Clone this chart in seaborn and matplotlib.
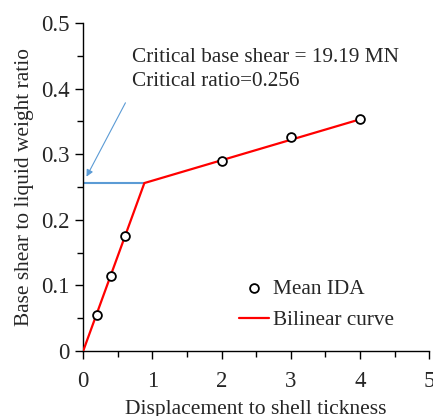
"""Curva bilineal de cortante basal frente a desplazamiento normalizado."""

import matplotlib.pyplot as plt
import pandas as pd
import seaborn as sns
from matplotlib.ticker import MultipleLocator

# Puntos IDA medios
ida_x = [0.2, 0.4, 0.6, 2.0, 3.0, 4.0]
ida_y = [0.055, 0.115, 0.175, 0.290, 0.326, 0.353]

# Curva bilineal
bilineal_x = [0.0, 0.885, 4.0]
bilineal_y = [0.0, 0.256, 0.353]

ratio_critico = 0.256

sns.set_theme(style="ticks")
plt.rcParams["font.family"] = ["Liberation Serif", "DejaVu Serif"]

df_ida = pd.DataFrame({"x": ida_x, "y": ida_y})
df_bil = pd.DataFrame({"x": bilineal_x, "y": bilineal_y})

fig = plt.figure(figsize=(4.33, 4.16), dpi=100)
ax = fig.add_axes([0.192, 0.156, 0.799, 0.789])

ax.plot([0, bilineal_x[1]], [ratio_critico, ratio_critico],
        color="#5b9bd5", linewidth=1.5, zorder=2)
sns.lineplot(data=df_bil, x="x", y="y", ax=ax, color="red",
             linewidth=1.6, label="Bilinear curve", zorder=3)
sns.scatterplot(data=df_ida, x="x", y="y", ax=ax, marker="o", s=40,
                facecolor="white", edgecolor="black", linewidth=1.3,
                label="Mean IDA", zorder=4)

ax.annotate("", xy=(0.03, 0.262), xytext=(0.63, 0.382),
            arrowprops=dict(arrowstyle="-|>", color="#5b9bd5", lw=0.8,
                            mutation_scale=10))
ax.text(0.70, 0.441, "Critical base shear = 19.19 MN", fontsize=15.3)
ax.text(0.70, 0.404, "Critical ratio=0.256", fontsize=15.3)

ax.set_xlim(0, 5)
ax.set_ylim(0, 0.5)
ax.set_xticks([0, 1, 2, 3, 4, 5])
ax.set_xticklabels(["0", "1", "2", "3", "4", "5"])
ax.set_yticks([0, 0.1, 0.2, 0.3, 0.4, 0.5])
ax.set_yticklabels(["0", "0.1", "0.2", "0.3", "0.4", "0.5"])
ax.xaxis.set_minor_locator(MultipleLocator(0.5))
ax.yaxis.set_minor_locator(MultipleLocator(0.05))
ax.tick_params(which="both", direction="out", labelsize=16.5, width=1,
               color="black")
ax.tick_params(which="major", length=6)
ax.tick_params(which="minor", length=4)
ax.tick_params(axis="x", which="major", pad=8)
for lado in ["left", "bottom"]:
    ax.spines[lado].set_linewidth(1)
    ax.spines[lado].set_color("black")
sns.despine(ax=ax)

ax.set_xlabel("Displacement to shell tickness", fontsize=15.5, labelpad=6)
ax.set_ylabel("Base shear to liquid weight ratio", fontsize=15.4, labelpad=5)

handles, labels = ax.get_legend_handles_labels()
orden = [labels.index("Mean IDA"), labels.index("Bilinear curve")]
ax.legend([handles[i] for i in orden], [labels[i] for i in orden],
          loc="lower right", bbox_to_anchor=(0.955, 0.005), frameon=False,
          fontsize=15.3, handlelength=1.4, handletextpad=0.2,
          labelspacing=0.55)

fig.savefig("out.png", dpi=100)
